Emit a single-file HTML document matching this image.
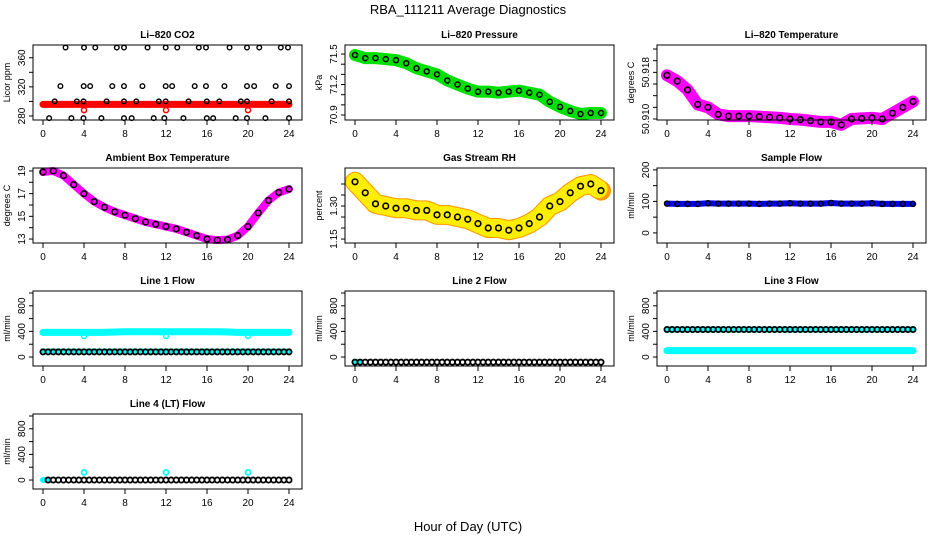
<!DOCTYPE html>
<html><head><meta charset="utf-8"><style>
html,body{margin:0;padding:0;background:#fff;}
svg{display:block;font-family:"Liberation Sans",sans-serif;}
</style></head><body>
<svg id="c" width="936" height="540" viewBox="0 0 936 540">
<text x="468" y="14" font-size="13" text-anchor="middle">RBA_111211  Average Diagnostics</text>
<text x="468" y="531" font-size="13" text-anchor="middle">Hour of Day (UTC)</text>
</svg>
<script>
const HRS = [0,1,2,3,4,5,6,7,8,9,10,11,12,13,14,15,16,17,18,19,20,21,22,23,24];
const xTicks = [0,4,8,12,16,20,24];
// CO2
const co2Band = [296,296,296,296,296,296,296,296,296,296,296,296,296,296,296,296,296,296,296,296,296,296,296,296,296];
const co2RedHours = [4,12,20];
const co2RedVals = [288,288,288];
const co2BlkHours = [2.2,4.0,5.1,7.2,7.9,10.2,11.97,13.1,15.2,15.9,18.2,19.9,21.1,23.2,23.9,
 1.7,3.97,4.6,6.76,7.9,9.7,11.97,12.6,14.8,15.9,17.7,19.9,20.6,22.7,24.0,
 1.14,3.3,3.95,6.2,7.9,9.1,11.3,11.97,14.2,15.98,17.2,19.3,19.9,22.3,24.0,
 0.6,2.77,3.95,5.7,7.9,8.65,10.8,11.84,13.7,15.98,16.6,18.8,19.9,21.7,24.0];
const co2BlkVals = [374,374,374,374,374,374,374,374,374,374,374,374,374,374,374,
 321,321,321,321,321,321,321,321,321,321,321,321,321,321,321,
 300,300,300,300,300,300,300,300,300,300,300,300,300,300,300,
 277,277,277,277,277,277,277,277,277,277,277,277,277,277,277];
// Pressure
const presVals = [71.49,71.46,71.46,71.45,71.44,71.41,71.36,71.33,71.30,71.24,71.20,71.16,71.13,71.13,71.12,71.13,71.14,71.12,71.10,71.03,70.98,70.94,70.91,70.92,70.92];
// Li-820 Temperature
const tempVals = [50.9175,50.9165,50.915,50.9125,50.912,50.9108,50.9105,50.9105,50.9105,50.9104,50.9103,50.9102,50.910,50.9099,50.9097,50.9095,50.9095,50.909,50.910,50.9101,50.9102,50.910,50.911,50.912,50.913];
// Ambient
const ambVals = [18.9,19.0,18.6,17.8,17.0,16.3,15.8,15.4,15.1,14.8,14.5,14.3,14.1,13.9,13.6,13.3,13.0,12.9,12.95,13.3,14.1,15.3,16.4,17.1,17.4];
// Gas RH
const rhVals = [1.41,1.36,1.31,1.30,1.29,1.29,1.28,1.28,1.26,1.26,1.25,1.24,1.22,1.20,1.20,1.19,1.20,1.22,1.25,1.30,1.32,1.36,1.39,1.40,1.37];
// Sample flow
const sampleVals = [93,92,92,92,94,93,93,93,93,92,93,93,94,93,93,93,95,93,93,93,94,92,92,92,92];
// Line flows
const l1Cyan = [385,385,385,385,385,385,385,390,395,395,395,395,395,395,395,395,395,395,390,385,385,385,385,385,385];
const l1Low = [95,95,95,95,95,95,95,95,95,95,95,95,95,95,95,95,95,95,95,95,95,95,95,95,95];
const l1Blk = [80,80,80,80,80,80,80,80,80,80,80,80,80,80,80,80,80,80,80,80,80,80,80,80,80];
const l1DipHours = [4,12,20];
const l1DipVals = [330,330,330];
const l2Vals = [-80,-80,-80,-80,-80,-80,-80,-80,-80,-80,-80,-80,-80,-80,-80,-80,-80,-80,-80,-80,-80,-80,-80,-80,-80];
const l3High = [430,430,430,430,430,430,430,430,430,430,430,430,430,430,430,430,430,430,430,430,430,430,430,430,430];
const l3Low = [100,100,100,100,100,100,100,100,100,100,100,100,100,100,100,100,100,100,100,100,100,100,100,100,100];
const l4Vals = [0,0,0,0,0,0,0,0,0,0,0,0,0,0,0,0,0,0,0,0,0,0,0,0,0];
const l4OutHours = [4,12,20];
const l4OutVals = [120,120,120];

const NS="http://www.w3.org/2000/svg";
const svg=document.getElementById('c');
function mk(tag,attrs,parent){const e=document.createElementNS(NS,tag);for(const k in attrs)e.setAttribute(k,attrs[k]);(parent||svg).appendChild(e);return e;}
const ROWS=[45,168,291,414];
function panel(col,row,title,ylab,dom,ticks,labels,fmt,name){
  const L=33+312*col,R=302+312*col,T=ROWS[row],B=T+75;
  const g=mk('g',{});
  
  
  const xs=h=>43+312*col+h*(246/24);
  const ys=v=>B-(v-dom[0])/(dom[1]-dom[0])*(B-T);
  const t=mk('text',{x:(L+R)/2,y:T-7,'font-size':10,'font-weight':'bold','text-anchor':'middle'},g);
  t.textContent=title;
  
  
  const yl=mk('text',{x:0,y:0,'font-size':9,'text-anchor':'middle',transform:`translate(${L-23},${(T+B)/2}) rotate(-90)`},g);
  yl.textContent=ylab;
  
  
  const data=mk('g',{},g);
  
  
  const box=mk('rect',{x:L,y:T,width:R-L,height:B-T,fill:'none',stroke:'#000','stroke-width':1},g);
  
  
  for(const h of xTicks){
    mk('line',{x1:xs(h),x2:xs(h),y1:B,y2:B+5,stroke:'#000'},g);
    const tl=mk('text',{x:xs(h),y:B+17,'font-size':10,'text-anchor':'middle'},g);
    tl.textContent=h;
    
    
  }
  for(const v of ticks){
    mk('line',{x1:L-4,x2:L,y1:ys(v),y2:ys(v),stroke:'#000'},g);
  }
  for(const v of labels){
    const tl=mk('text',{x:0,y:0,'font-size':10,'text-anchor':'middle',transform:`translate(${L-8},${ys(v)}) rotate(-90)`},g);
    tl.textContent=fmt(v);
    
    
  }
  return {xs,ys,g:data};
}
function band(p,hs,vs,color,w){
  const pts=hs.map((h,i)=>p.xs(h)+','+p.ys(vs[i])).join(' ');
  const e=mk('polyline',{points:pts,fill:'none',stroke:color,'stroke-width':w,'stroke-linejoin':'round','stroke-linecap':'round'},p.g);
  
  
  return e;
}
function circles(p,hs,vs,color,r,sw){
  hs.forEach((h,i)=>{
    const e=mk('circle',{cx:p.xs(h),cy:p.ys(vs[i]),r:r||2.5,fill:'none',stroke:color,'stroke-width':sw||1.5},p.g);
    
    
  });
}
const halfHrs=HRS.slice(0,24).map(h=>h+0.5);
function mid(vs){return vs.slice(0,24).map((v,i)=>(v+vs[i+1])/2);}

// Row 1
let p=panel(0,0,'Li–820 CO2','Licor ppm',[274.5,377.5],[280,300,320,340,360],[280,320,360],v=>v,'co2');
band(p,HRS,co2Band,'#ff0000',7);
circles(p,co2RedHours,co2RedVals,'#ff0000',2.5,1.5);
circles(p,co2BlkHours,co2BlkVals,'#000',2.3,1.4);

p=panel(1,0,'Li–820 Pressure','kPa',[70.851,71.589],[70.9,71.0,71.1,71.2,71.3,71.4,71.5],[70.9,71.2,71.5],v=>v.toFixed(1),'pressure');
band(p,HRS,presVals,'#00e000',12);
circles(p,HRS,presVals,'#000',2.5,1.5);

p=panel(2,0,'Li–820 Temperature','degrees C',[50.90983,50.92269],[50.910,50.912,50.914,50.916,50.918,50.920,50.922],[50.910,50.918],v=>v.toFixed(3),'temperature');
band(p,HRS,tempVals,'#ff00ff',12);
circles(p,HRS,tempVals,'#000',2.8,1.6);

// Row 2
p=panel(0,1,'Ambient Box Temperature','degrees C',[12.65,19.26],[13,14,15,16,17,18,19],[13,15,17,19],v=>v,'ambient');
band(p,HRS,ambVals,'#ff00ff',8);
circles(p,HRS,ambVals,'#000',2.8,1.6);

p=panel(1,1,'Gas Stream RH','percent',[1.132,1.4727],[1.15,1.20,1.25,1.30,1.35,1.40],[1.15,1.30],v=>v.toFixed(2),'gas-rh');
band(p,HRS,rhVals,'#ff9900',20);
band(p,HRS,rhVals,'#ffee00',18).setAttribute('stroke-dasharray','1 3');
circles(p,HRS,rhVals,'#000',2.8,1.6);

p=panel(2,1,'Sample Flow','ml/min',[-32,206],[0,50,100,150,200],[0,100,200],v=>v,'sample-flow');
band(p,HRS,sampleVals,'#0000ff',6);
circles(p,HRS,sampleVals,'#000',2.5,1.5);

// Row 3 & 4 flows
const fT=[0,200,400,600,800,1000],fL=[0,400,800],fd=[-140,1031];
p=panel(0,2,'Line 1 Flow','ml/min',fd,fT,fL,v=>v,'line1-flow');
band(p,HRS,l1Cyan,'#00ffff',7);
band(p,HRS,l1Low,'#00ffff',5);
circles(p,l1DipHours,l1DipVals,'#00ffff',2.5,1.5);
circles(p,HRS,l1Blk,'#000',2.6,1.8);circles(p,halfHrs,mid(l1Blk),'#000',2.6,1.8);

p=panel(1,2,'Line 2 Flow','ml/min',fd,fT,fL,v=>v,'line2-flow');
band(p,[0,0.5],l2Vals.slice(0,2),'#00ffff',6);
circles(p,HRS,l2Vals,'#000',2.6,1.8);circles(p,halfHrs,mid(l2Vals),'#000',2.6,1.8);

p=panel(2,2,'Line 3 Flow','ml/min',fd,fT,fL,v=>v,'line3-flow');
band(p,HRS,l3High,'#00ffff',6);
band(p,HRS,l3Low,'#00ffff',7);
circles(p,HRS,l3High,'#000',2.6,1.8);circles(p,halfHrs,mid(l3High),'#000',2.6,1.8);

p=panel(0,3,'Line 4 (LT) Flow','ml/min',fd,fT,fL,v=>v,'line4-flow');
band(p,[0,0.5],l4Vals.slice(0,2),'#00ffff',6);
circles(p,l4OutHours,l4OutVals,'#00ffff',2.5,1.8);
circles(p,HRS.slice(1),l4Vals.slice(1),'#000',2.6,1.8);circles(p,halfHrs,mid(l4Vals),'#000',2.6,1.8);
</script>
</body></html>
